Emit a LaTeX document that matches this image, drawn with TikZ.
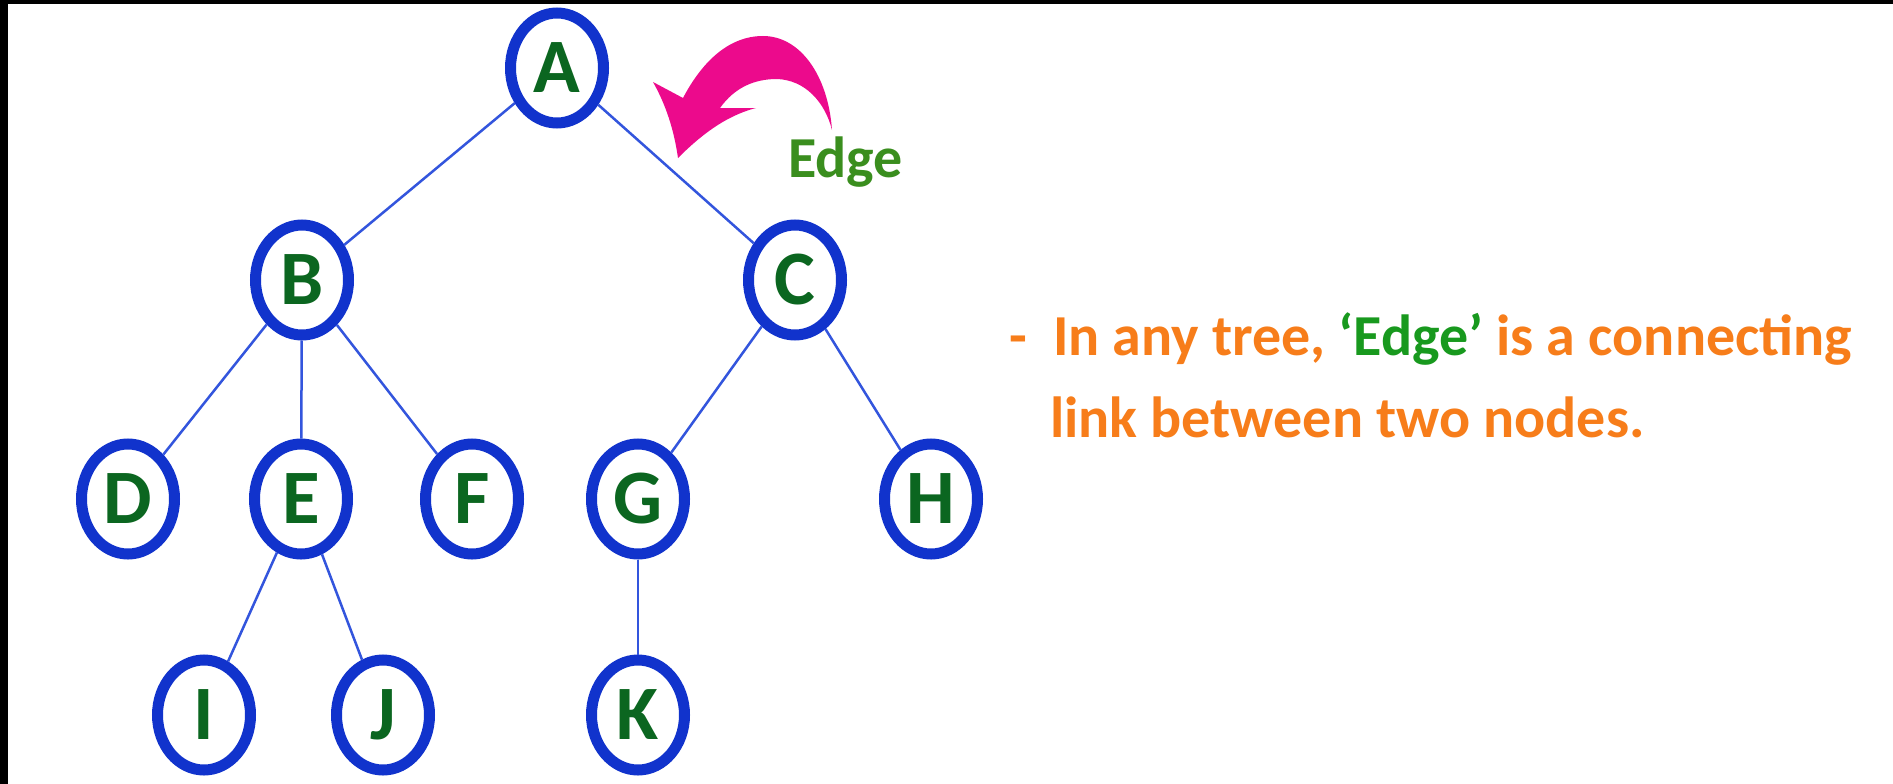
\documentclass[tikz,border=0pt]{standalone}
\usepackage{fontspec}
\setmainfont{Carlito}
\usepackage{xcolor}
\definecolor{ringblue}{HTML}{1133CC}
\definecolor{lettergreen}{HTML}{0B6620}
\definecolor{edgeblue}{HTML}{3355DD}
\definecolor{notetext}{HTML}{F77D1A}
\definecolor{edgegreen}{HTML}{18991E}
\definecolor{labelgreen}{HTML}{3A8E1E}
\definecolor{pointerpink}{HTML}{EC0A8C}
\usetikzlibrary{shapes.geometric}

\tikzset{
  treenode/.style={ellipse, draw=ringblue, line width=11pt, fill=white,
    minimum width=93pt, minimum height=110pt, inner sep=0pt,
    text=lettergreen, font=\fontsize{77}{80}\selectfont\bfseries},
  treeedge/.style={draw=edgeblue, line width=2.5pt},
  notefont/.style={font=\fontsize{58}{64}\selectfont\bfseries, text=notetext,
    inner sep=0pt, anchor=base west}
}

\begin{document}
\begin{tikzpicture}[x=1pt, y=-1pt]
  % Frame: white page with the dark strips on top and left.
  \useasboundingbox (0,0) rectangle (1893,784);
  \fill[white] (0,0) rectangle (1893,784);
  \fill[black] (0,0) rectangle (1893,4);
  \fill[black] (0,0) rectangle (8,784);
  % Tree nodes, row by row.
  \node[treenode] (A) at (557,68)  {A};
  \node[treenode] (B) at (302,280) {B};
  \node[treenode] (C) at (795,280) {C};
  \node[treenode] (D) at (128,499) {D};
  \node[treenode] (E) at (301,499) {E};
  \node[treenode] (F) at (472,499) {F};
  \node[treenode] (G) at (638,499) {G};
  \node[treenode] (H) at (931,499) {H};
  \node[treenode] (I) at (204,715) {I};
  \node[treenode] (J) at (383,715) {J};
  \node[treenode] (K) at (638,715) {K};
  % Edges between parent and child.
  \draw[treeedge] (A) -- (B);
  \draw[treeedge] (A) -- (C);
  \draw[treeedge] (B) -- (D);
  \draw[treeedge] (B) -- (E);
  \draw[treeedge] (B) -- (F);
  \draw[treeedge] (C) -- (G);
  \draw[treeedge] (C) -- (H);
  \draw[treeedge] (E) -- (I);
  \draw[treeedge] (E) -- (J);
  \draw[treeedge] (G) -- (K);
  % Curved pointer onto the edge A--C, with its label.
  \fill[pointerpink] (832,130) .. controls (828,75) and (800,36) .. (763,36)
    .. controls (730,36) and (703,60) .. (683,98) -- (653,82)
    .. controls (666,105) and (674,130) .. (678,158)
    .. controls (700,136) and (725,116) .. (756,108) -- (720,108)
    .. controls (735,87) and (755,79) .. (777,79)
    .. controls (805,80) and (825,102) .. (832,130) -- cycle;
  \node[font=\fontsize{58}{64}\selectfont\bfseries, text=labelgreen,
    inner sep=0pt, anchor=base west] (edgelabel) at (788,177) {Edge};
  % Definition text.
  \node[notefont] (notedash) at (1009,355) {-};
  \node[notefont] (noteone) at (1053,355)
    {In any tree, \textcolor{edgegreen}{‘Edge’} is a connecting};
  \node[notefont] (notetwo) at (1050,437) {link between two nodes.};
\end{tikzpicture}
\end{document}
